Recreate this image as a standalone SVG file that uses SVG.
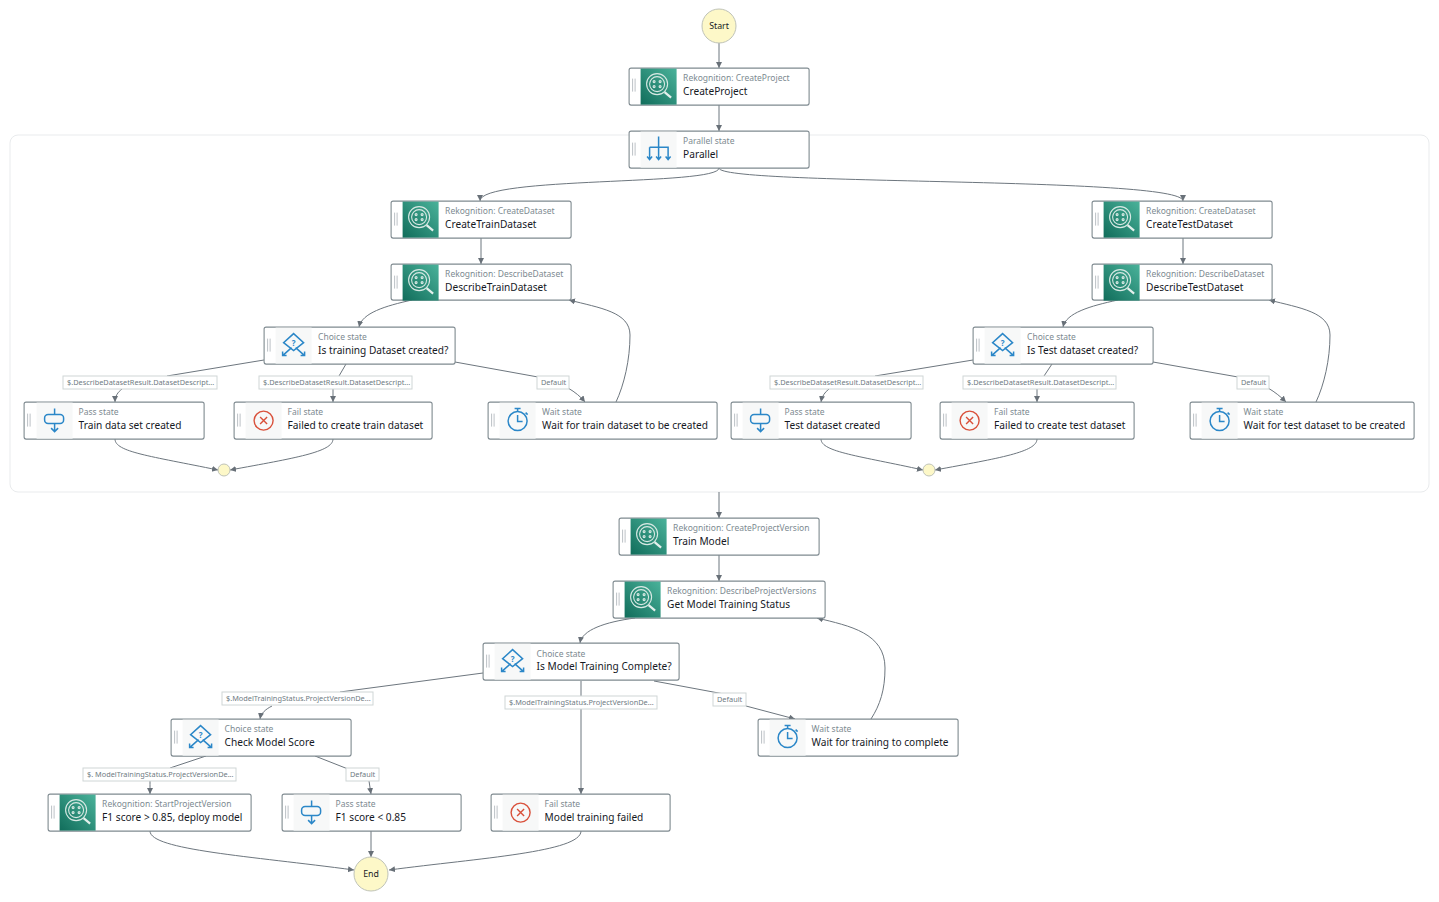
<svg xmlns="http://www.w3.org/2000/svg" xmlns:xlink="http://www.w3.org/1999/xlink" width="1439" height="902" viewBox="0 0 1439 902">
<style>
text{font-family:"Noto Sans","Open Sans","Liberation Sans",sans-serif}
.b{fill:#fff;stroke:#7f8a90;stroke-width:1.1}
.p{fill:#f7f8f8}
.h{fill:none;stroke:#bcc2c6;stroke-width:1}
.t{font-size:8.5px;fill:#7d8a91}
.n{font-size:10.15px;fill:#16191f}
.c{fill:none;stroke:#6d767e;stroke-width:1}
.lb{fill:#fff;stroke:#cfd6d6;stroke-width:1}
.l{font-size:7.35px;fill:#6f7b83}
.ci{fill:#fdf8c8;stroke:#bfc3b8;stroke-width:1}
.ct{font-size:8.8px;fill:#16191f;text-anchor:middle}
.i{fill:none;stroke:#2b87c8;stroke-width:1.5}
.w{fill:none;stroke:#d7e8e3;stroke-width:1.1}
.f{fill:none;stroke:#d9503a;stroke-width:1.4}
</style>
<defs>
<linearGradient id="g" x1="0" y1="1" x2="1" y2="0"><stop offset="0" stop-color="#116d5b"/><stop offset="1" stop-color="#4ab29a"/></linearGradient>
<marker id="a" markerWidth="8" markerHeight="8" refX="6" refY="3" orient="auto" markerUnits="userSpaceOnUse"><path d="M0 0L6 3L0 6Z" fill="#687078"/></marker>
<symbol id="rek" overflow="visible"><rect width="36" height="36" fill="url(#g)"/><circle cx="16.500" cy="15.500" r="10.500" class="w"/><circle cx="16.500" cy="15.500" r="7.500" class="w"/><circle cx="13.500" cy="13" r="1" class="w"/><circle cx="19.500" cy="13" r="1" class="w"/><circle cx="13.500" cy="18" r="1" class="w"/><circle cx="19.500" cy="18" r="1" class="w"/><path d="M24 23.500L30.500 29" fill="none" stroke="#e3f0ec" stroke-width="2.200"/></symbol>
<symbol id="par" overflow="visible"><path class="i" d="M18 5V27.500M9 15.700H27.500V27.500M9 15.700V27.500M6.500 25L9 28L11.500 25M15.500 25L18 28L20.500 25M25 25L27.500 28L30 25"/></symbol>
<symbol id="cho" overflow="visible"><path class="i" d="M18 6L28 15L18 23L8 15ZM16 20L7 28M20 20L29 28M7 24V28H11M29 24V28H25"/><text x="18" y="18" font-size="8" font-weight="700" fill="#2b87c8" text-anchor="middle">?</text></symbol>
<symbol id="pas" overflow="visible"><path class="i" d="M18 6V12M18 21V29M14.500 25.500L18 29L21.500 25.500"/><rect class="i" x="8" y="12" width="19" height="9" rx="3.500"/></symbol>
<symbol id="fai" overflow="visible"><circle class="f" cx="18" cy="18" r="9.500"/><path class="f" d="M14.500 14.500L21.500 21.500M21.500 14.500L14.500 21.500"/></symbol>
<symbol id="wai" overflow="visible"><circle class="i" cx="18" cy="18.500" r="9.500"/><path class="i" d="M18 12.500V19H23M15 6H21M18 6V9M26 10L28 12"/></symbol>
</defs>
<rect id="container" x="10" y="135" width="1419" height="357" rx="8" fill="#fff" stroke="#e9ebed"/>
<g id="connectors">
<path class="c" marker-end="url(#a)" d="M719 43V68"/>
<path class="c" marker-end="url(#a)" d="M719 105V131"/>
<path class="c" marker-end="url(#a)" d="M719 168C719 186 480 176 480 201"/>
<path class="c" marker-end="url(#a)" d="M719 168C719 186 1183 176 1183 201"/>
<path class="c" marker-end="url(#a)" d="M481 238V264"/>
<path class="c" marker-end="url(#a)" d="M1183 238V264"/>
<path class="c" marker-end="url(#a)" d="M412 300C385 306 362 313 359 327"/>
<path class="c" marker-end="url(#a)" d="M1118 300C1090 306 1066 313 1063 327"/>
<path class="c" d="M264 360L167 376"/>
<path class="c" marker-end="url(#a)" d="M122 389C118 392 115 396 115 402"/>
<path class="c" marker-end="url(#a)" d="M346 364L339 376M333 389V402"/>
<path class="c" d="M455 362L538 377"/>
<path class="c" marker-end="url(#a)" d="M568 388C575 392 581 397 585 402"/>
<path class="c" marker-end="url(#a)" d="M616 402C624 385 630 360 630 335C630 312 600 308 569 300"/>
<path class="c" d="M973 360L875 376"/>
<path class="c" marker-end="url(#a)" d="M829 389C825 392 822 396 821 402"/>
<path class="c" marker-end="url(#a)" d="M1052 364L1044 376M1037 389V402"/>
<path class="c" d="M1153 362L1238 377"/>
<path class="c" marker-end="url(#a)" d="M1268 388C1275 392 1281 397 1286 402"/>
<path class="c" marker-end="url(#a)" d="M1316 402C1324 385 1330 360 1330 335C1330 312 1300 308 1269 300"/>
<path class="c" marker-end="url(#a)" d="M115 439C115 452 150 456 218 470"/>
<path class="c" marker-end="url(#a)" d="M333 439C333 452 295 458 230 470"/>
<path class="c" marker-end="url(#a)" d="M821 439C821 452 860 456 923 470"/>
<path class="c" marker-end="url(#a)" d="M1037 439C1037 452 1000 458 935 470"/>
<path class="c" marker-end="url(#a)" d="M719 492V518"/>
<path class="c" marker-end="url(#a)" d="M719 555V581"/>
<path class="c" marker-end="url(#a)" d="M635 618C605 622 582 630 580 643"/>
<path class="c" d="M483 673L340 692"/>
<path class="c" marker-end="url(#a)" d="M272 706C266 709 261 713 260 719"/>
<path class="c" marker-end="url(#a)" d="M581 681V794"/>
<path class="c" d="M654 681L724 694"/>
<path class="c" marker-end="url(#a)" d="M746 706L795 719"/>
<path class="c" marker-end="url(#a)" d="M871 719C880 705 885 690 885 668C885 633 850 626 817 618"/>
<path class="c" d="M206 756L170 768"/>
<path class="c" marker-end="url(#a)" d="M150 781C150 786 150 790 150 794"/>
<path class="c" d="M315 756L348 769"/>
<path class="c" marker-end="url(#a)" d="M369 781L371 794"/>
<path class="c" marker-end="url(#a)" d="M150 831C150 850 250 856 354 870"/>
<path class="c" marker-end="url(#a)" d="M371 831V857"/>
<path class="c" marker-end="url(#a)" d="M581 831C581 852 480 858 389 870"/>
</g>
<g id="edge-labels">
<rect class="lb" x="63" y="376" width="154" height="13"/><text class="l" x="67" y="385">$.DescribeDatasetResult.DatasetDescript...</text>
<rect class="lb" x="259" y="376" width="153" height="13"/><text class="l" x="263" y="385">$.DescribeDatasetResult.DatasetDescript...</text>
<rect class="lb" x="537" y="376" width="32" height="13"/><text class="l" x="541" y="385">Default</text>
<rect class="lb" x="770" y="376" width="153" height="13"/><text class="l" x="774" y="385">$.DescribeDatasetResult.DatasetDescript...</text>
<rect class="lb" x="963" y="376" width="153" height="13"/><text class="l" x="967" y="385">$.DescribeDatasetResult.DatasetDescript...</text>
<rect class="lb" x="1237" y="376" width="32" height="13"/><text class="l" x="1241" y="385">Default</text>
<rect class="lb" x="222" y="692" width="151" height="13"/><text class="l" x="226" y="701">$.ModelTrainingStatus.ProjectVersionDe...</text>
<rect class="lb" x="505" y="696" width="152" height="13"/><text class="l" x="509" y="705">$.ModelTrainingStatus.ProjectVersionDe...</text>
<rect class="lb" x="713" y="693" width="33" height="13"/><text class="l" x="717" y="702">Default</text>
<rect class="lb" x="83" y="768" width="153" height="13"/><text class="l" x="87" y="777">$. ModelTrainingStatus.ProjectVersionDe...</text>
<rect class="lb" x="346" y="768" width="33" height="13"/><text class="l" x="350" y="777">Default</text>
</g>
<g id="start"><circle class="ci" cx="719" cy="26" r="17"/><text class="ct" x="719" y="29">Start</text></g>
<g id="end"><circle class="ci" cx="371" cy="874" r="17"/><text class="ct" x="371" y="877">End</text></g>
<g id="join-train"><circle class="ci" cx="224" cy="470" r="6"/></g>
<g id="join-test"><circle class="ci" cx="929" cy="470" r="6"/></g>
<g id="nodes" transform="translate(-0.4,-0.4)">
<g id="create-project"><rect class="b" x="629.500" y="68.500" width="180" height="37" rx="2"/><path class="h" d="M633 79V92M635.500 79V92"/><use href="#rek" xlink:href="#rek" x="641" y="69"/><text class="t" x="683.500" y="81">Rekognition: CreateProject</text><text class="n" x="683.500" y="95">CreateProject</text></g>
<g id="parallel"><rect class="b" x="629.500" y="131.500" width="180" height="37" rx="2"/><path class="h" d="M633 143V156M635.500 143V156"/><rect class="p" x="641" y="132" width="36" height="36"/><use href="#par" xlink:href="#par" x="641" y="132"/><text class="t" x="683.500" y="144">Parallel state</text><text class="n" x="683.500" y="158">Parallel</text></g>
<g id="create-train"><rect class="b" x="391.500" y="201.500" width="180" height="37" rx="2"/><path class="h" d="M395 213V226M397.500 213V226"/><use href="#rek" xlink:href="#rek" x="403" y="202"/><text class="t" x="445.500" y="214">Rekognition: CreateDataset</text><text class="n" x="445.500" y="228">CreateTrainDataset</text></g>
<g id="describe-train"><rect class="b" x="391.500" y="264.500" width="180" height="36" rx="2"/><path class="h" d="M395 276V289M397.500 276V289"/><use href="#rek" xlink:href="#rek" x="403" y="265"/><text class="t" x="445.500" y="277">Rekognition: DescribeDataset</text><text class="n" x="445.500" y="291">DescribeTrainDataset</text></g>
<g id="choice-train"><rect class="b" x="264.500" y="327.500" width="191" height="37" rx="2"/><path class="h" d="M268 339V352M270.500 339V352"/><rect class="p" x="276" y="328" width="36" height="36"/><use href="#cho" xlink:href="#cho" x="276" y="328"/><text class="t" x="318.500" y="340">Choice state</text><text class="n" x="318.500" y="354">Is training Dataset created?</text></g>
<g id="pass-train"><rect class="b" x="24.500" y="402.500" width="180" height="37" rx="2"/><path class="h" d="M28 414V427M30.500 414V427"/><rect class="p" x="37" y="403" width="36" height="36"/><use href="#pas" xlink:href="#pas" x="37" y="403"/><text class="t" x="79" y="415">Pass state</text><text class="n" x="79" y="429">Train data set created</text></g>
<g id="fail-train"><rect class="b" x="234.500" y="402.500" width="198" height="37" rx="2"/><path class="h" d="M238 414V427M240.500 414V427"/><rect class="p" x="246" y="403" width="36" height="36"/><use href="#fai" xlink:href="#fai" x="246" y="403"/><text class="t" x="288" y="415">Fail state</text><text class="n" x="288" y="429">Failed to create train dataset</text></g>
<g id="wait-train"><rect class="b" x="488.500" y="402.500" width="229" height="37" rx="2"/><path class="h" d="M492 414V427M494.500 414V427"/><rect class="p" x="500" y="403" width="36" height="36"/><use href="#wai" xlink:href="#wai" x="500" y="403"/><text class="t" x="542.500" y="415">Wait state</text><text class="n" x="542.500" y="429">Wait for train dataset to be created</text></g>
<g id="create-test"><rect class="b" x="1092.500" y="201.500" width="180" height="37" rx="2"/><path class="h" d="M1096 213V226M1098.500 213V226"/><use href="#rek" xlink:href="#rek" x="1104" y="202"/><text class="t" x="1146.500" y="214">Rekognition: CreateDataset</text><text class="n" x="1146.500" y="228">CreateTestDataset</text></g>
<g id="describe-test"><rect class="b" x="1092.500" y="264.500" width="180" height="36" rx="2"/><path class="h" d="M1096 276V289M1098.500 276V289"/><use href="#rek" xlink:href="#rek" x="1104" y="265"/><text class="t" x="1146.500" y="277">Rekognition: DescribeDataset</text><text class="n" x="1146.500" y="291">DescribeTestDataset</text></g>
<g id="choice-test"><rect class="b" x="973.500" y="327.500" width="180" height="37" rx="2"/><path class="h" d="M977 339V352M979.500 339V352"/><rect class="p" x="985" y="328" width="36" height="36"/><use href="#cho" xlink:href="#cho" x="985" y="328"/><text class="t" x="1027.500" y="340">Choice state</text><text class="n" x="1027.500" y="354">Is Test dataset created?</text></g>
<g id="pass-test"><rect class="b" x="731.500" y="402.500" width="180" height="37" rx="2"/><path class="h" d="M735 414V427M737.500 414V427"/><rect class="p" x="743" y="403" width="36" height="36"/><use href="#pas" xlink:href="#pas" x="743" y="403"/><text class="t" x="785" y="415">Pass state</text><text class="n" x="785" y="429">Test dataset created</text></g>
<g id="fail-test"><rect class="b" x="940.500" y="402.500" width="194" height="37" rx="2"/><path class="h" d="M944 414V427M946.500 414V427"/><rect class="p" x="952" y="403" width="36" height="36"/><use href="#fai" xlink:href="#fai" x="952" y="403"/><text class="t" x="994.500" y="415">Fail state</text><text class="n" x="994.500" y="429">Failed to create test dataset</text></g>
<g id="wait-test"><rect class="b" x="1190.500" y="402.500" width="224" height="37" rx="2"/><path class="h" d="M1194 414V427M1196.500 414V427"/><rect class="p" x="1202" y="403" width="36" height="36"/><use href="#wai" xlink:href="#wai" x="1202" y="403"/><text class="t" x="1244" y="415">Wait state</text><text class="n" x="1244" y="429">Wait for test dataset to be created</text></g>
<g id="train-model"><rect class="b" x="619.500" y="518.500" width="200" height="37" rx="2"/><path class="h" d="M623 530V543M625.500 530V543"/><use href="#rek" xlink:href="#rek" x="631" y="519"/><text class="t" x="673.500" y="531">Rekognition: CreateProjectVersion</text><text class="n" x="673.500" y="545">Train Model</text></g>
<g id="get-status"><rect class="b" x="613.500" y="581.500" width="212" height="37" rx="2"/><path class="h" d="M617 593V606M619.500 593V606"/><use href="#rek" xlink:href="#rek" x="625" y="582"/><text class="t" x="667.500" y="594">Rekognition: DescribeProjectVersions</text><text class="n" x="667.500" y="608">Get Model Training Status</text></g>
<g id="choice-complete"><rect class="b" x="483.500" y="643.500" width="196" height="37" rx="2"/><path class="h" d="M487 655V668M489.500 655V668"/><rect class="p" x="495" y="644" width="36" height="36"/><use href="#cho" xlink:href="#cho" x="495" y="644"/><text class="t" x="537" y="657">Choice state</text><text class="n" x="537" y="670">Is Model Training Complete?</text></g>
<g id="check-score"><rect class="b" x="171.500" y="719.500" width="180" height="37" rx="2"/><path class="h" d="M175 731V744M177.500 731V744"/><rect class="p" x="183" y="720" width="36" height="36"/><use href="#cho" xlink:href="#cho" x="183" y="720"/><text class="t" x="225" y="732">Choice state</text><text class="n" x="225" y="746">Check Model Score</text></g>
<g id="wait-complete"><rect class="b" x="758.500" y="719.500" width="200" height="37" rx="2"/><path class="h" d="M762 731V744M764.500 731V744"/><rect class="p" x="770" y="720" width="36" height="36"/><use href="#wai" xlink:href="#wai" x="770" y="720"/><text class="t" x="812" y="732">Wait state</text><text class="n" x="812" y="746">Wait for training to complete</text></g>
<g id="deploy"><rect class="b" x="48.500" y="794.500" width="203" height="37" rx="2"/><path class="h" d="M52 806V819M54.500 806V819"/><use href="#rek" xlink:href="#rek" x="60" y="795"/><text class="t" x="102.500" y="807">Rekognition: StartProjectVersion</text><text class="n" x="102.500" y="821">F1 score &gt; 0.85, deploy model</text></g>
<g id="pass-score"><rect class="b" x="282.500" y="794.500" width="179" height="37" rx="2"/><path class="h" d="M286 806V819M288.500 806V819"/><rect class="p" x="294" y="795" width="36" height="36"/><use href="#pas" xlink:href="#pas" x="294" y="795"/><text class="t" x="336" y="807">Pass state</text><text class="n" x="336" y="821">F1 score &lt; 0.85</text></g>
<g id="fail-model"><rect class="b" x="491.500" y="794.500" width="179" height="37" rx="2"/><path class="h" d="M495 806V819M497.500 806V819"/><rect class="p" x="503" y="795" width="36" height="36"/><use href="#fai" xlink:href="#fai" x="503" y="795"/><text class="t" x="545" y="807">Fail state</text><text class="n" x="545" y="821">Model training failed</text></g>
</g>
</svg>
